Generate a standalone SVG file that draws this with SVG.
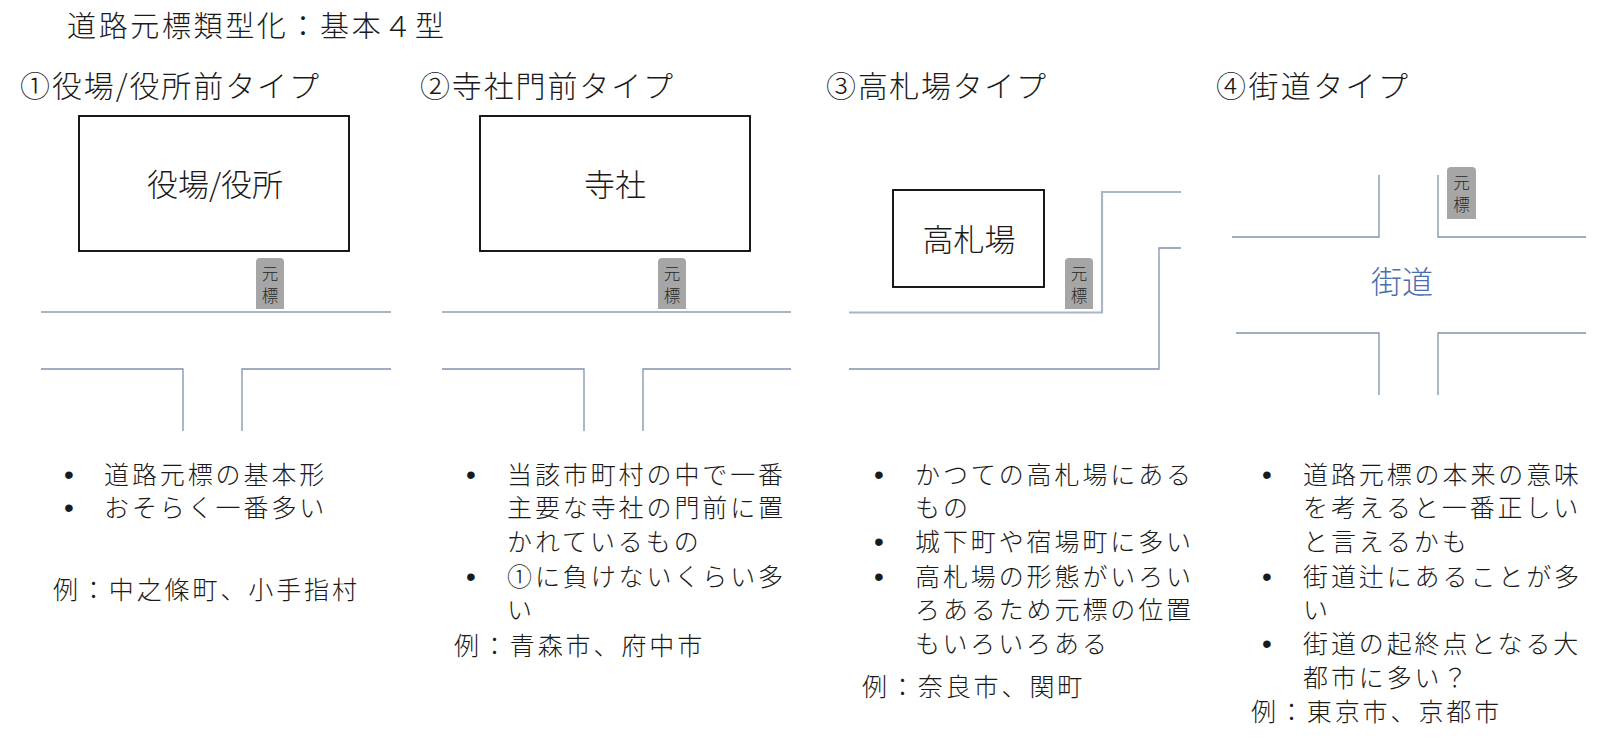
<svg xmlns="http://www.w3.org/2000/svg" width="1600" height="746" viewBox="0 0 1600 746">
<style>
text{font-family:"Noto Sans CJK JP","Noto Sans CJK SC",sans-serif;fill:#1a1a1a;font-weight:300}
.title{font-size:29px}
.head{font-size:30px}
.box{font-size:31px;text-anchor:middle}
.body{font-size:25px;letter-spacing:2.9px}
.dot{font-size:28px;text-anchor:middle;font-family:"Liberation Sans",sans-serif;font-weight:400}
.mk{font-size:16.5px;text-anchor:middle;fill:#262626}
.bld{fill:#fff;stroke:#000;stroke-width:1.8}
.rdA{fill:none;stroke:#aab6c6;stroke-width:2.2}
.rdB{fill:none;stroke:#7f93ad;stroke-width:1.3}
.mkr{fill:#a6a6a6}
</style>
<rect width="1600" height="746" fill="#fff"/>
<text class="title" x="67" y="37" textLength="377" lengthAdjust="spacing">道路元標類型化：基本４型</text>

<g id="type1">
<text class="head" x="20" y="97" textLength="299" lengthAdjust="spacing">①役場/役所前タイプ</text>
<rect class="bld" x="79" y="116" width="270" height="135"/>
<text class="box" x="215" y="196">役場/役所</text>
<path class="mkr" d="M256,309V262Q256,258 260,258H280Q284,258 284,262V309Z"/>
<text class="mk" x="270" y="280">元</text>
<text class="mk" x="270" y="302">標</text>
</g>

<g id="type2">
<text class="head" x="420" y="97" textLength="253" lengthAdjust="spacing">②寺社門前タイプ</text>
<rect class="bld" x="480" y="116" width="270" height="135"/>
<text class="box" x="615" y="196">寺社</text>
<path class="mkr" d="M658,309V262Q658,258 662,258H682Q686,258 686,262V309Z"/>
<text class="mk" x="672" y="280">元</text>
<text class="mk" x="672" y="302">標</text>
</g>

<g id="type3">
<text class="head" x="826" y="97" textLength="220" lengthAdjust="spacing">③高札場タイプ</text>
<rect class="bld" x="893" y="190" width="151" height="97"/>
<text class="box" x="969" y="251">高札場</text>
<path class="mkr" d="M1065,309V262Q1065,258 1069,258H1089Q1093,258 1093,262V309Z"/>
<text class="mk" x="1079" y="280">元</text>
<text class="mk" x="1079" y="302">標</text>
</g>

<g id="type4">
<text class="head" x="1216" y="97" textLength="192" lengthAdjust="spacing">④街道タイプ</text>
<text class="box" x="1402" y="293" style="fill:#4a6eab">街道</text>
<path class="mkr" d="M1447,219V171Q1447,167 1451,167H1472Q1476,167 1476,171V219Z"/>
<text class="mk" x="1461.5" y="189">元</text>
<text class="mk" x="1461.5" y="211">標</text>
</g>

<g id="connectors">
<path class="rdA" d="M41,312H391"/>
<path class="rdB" d="M41,369H183V431M242,431V369H391"/>
<path class="rdA" d="M442,312H791"/>
<path class="rdB" d="M442,369H584V431M643,431V369H791"/>
<path class="rdA" d="M849,312.5H1102V192H1181"/>
<path class="rdB" d="M849,369H1159V248H1181"/>
<path class="rdB" d="M1232,237H1379V175M1438,175V237H1586"/>
<path class="rdB" d="M1236,333H1379V395M1438,395V333H1586"/>
</g>

<g id="notes1">
<text class="dot" x="69" y="484">•</text>
<text class="dot" x="69" y="517">•</text>
<text class="body" x="104" y="484">道路元標の基本形</text>
<text class="body" x="104" y="517">おそらく一番多い</text>
<text class="body" x="53" y="599">例：中之條町、小手指村</text>
</g>

<g id="notes2">
<text class="dot" x="471" y="484">•</text>
<text class="dot" x="471" y="586">•</text>
<text class="body" x="507" y="484">当該市町村の中で一番</text>
<text class="body" x="507" y="517">主要な寺社の門前に置</text>
<text class="body" x="507" y="551">かれているもの</text>
<text class="body" x="507" y="586">①に負けないくらい多</text>
<text class="body" x="507" y="619">い</text>
<text class="body" x="454" y="655">例：青森市、府中市</text>
</g>

<g id="notes3">
<text class="dot" x="879" y="484">•</text>
<text class="dot" x="879" y="551">•</text>
<text class="dot" x="879" y="586">•</text>
<text class="body" x="915" y="484">かつての高札場にある</text>
<text class="body" x="915" y="517">もの</text>
<text class="body" x="915" y="551">城下町や宿場町に多い</text>
<text class="body" x="915" y="586">高札場の形態がいろい</text>
<text class="body" x="915" y="619">ろあるため元標の位置</text>
<text class="body" x="915" y="653">もいろいろある</text>
<text class="body" x="862" y="696">例：奈良市、関町</text>
</g>

<g id="notes4">
<text class="dot" x="1267" y="484">•</text>
<text class="dot" x="1267" y="586">•</text>
<text class="dot" x="1267" y="653">•</text>
<text class="body" x="1303" y="484">道路元標の本来の意味</text>
<text class="body" x="1303" y="517">を考えると一番正しい</text>
<text class="body" x="1303" y="551">と言えるかも</text>
<text class="body" x="1303" y="586">街道辻にあることが多</text>
<text class="body" x="1303" y="619">い</text>
<text class="body" x="1303" y="653">街道の起終点となる大</text>
<text class="body" x="1303" y="687">都市に多い？</text>
<text class="body" x="1251" y="721">例：東京市、京都市</text>
</g>
</svg>
